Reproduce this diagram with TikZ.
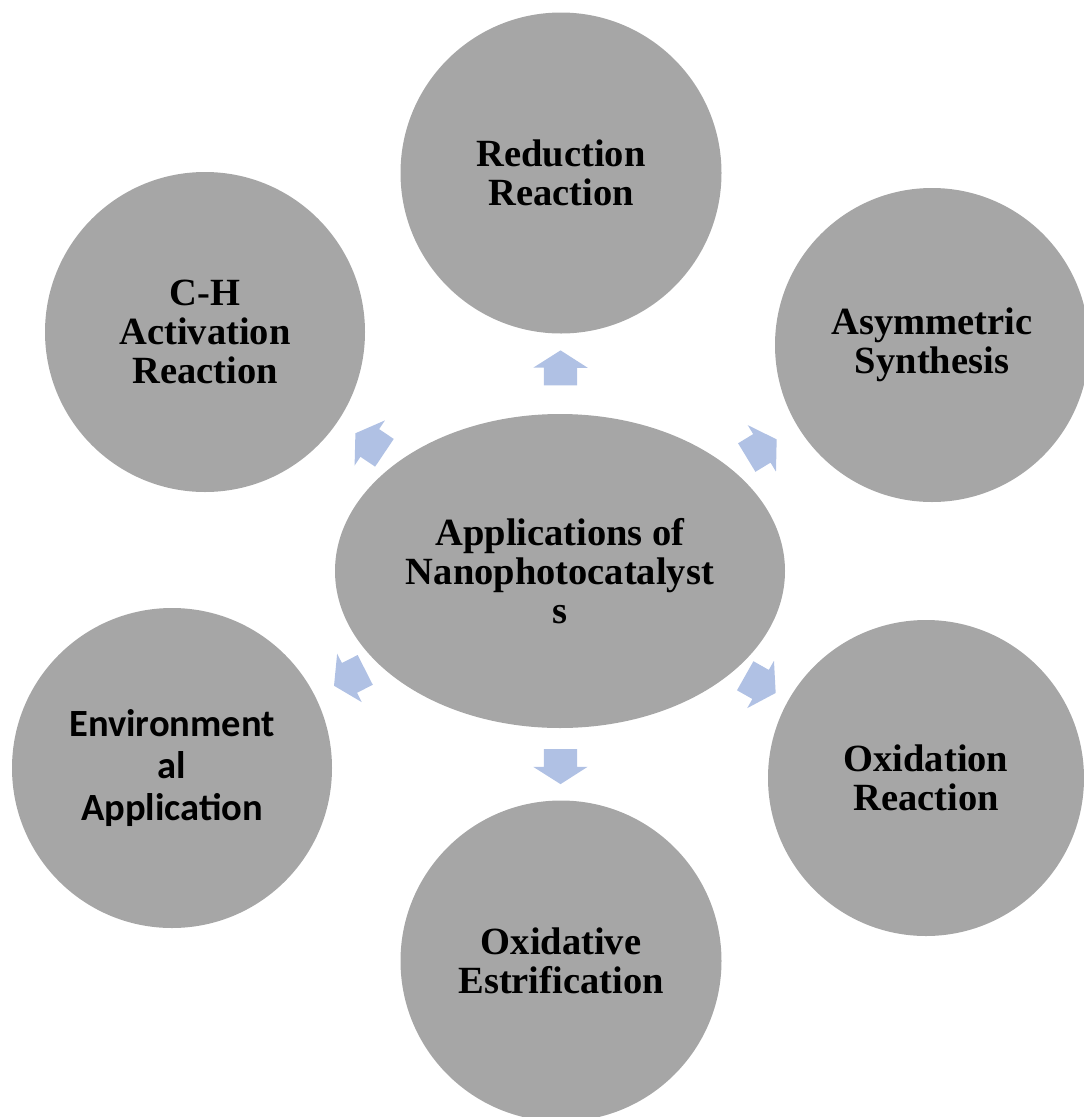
\documentclass[tikz,border=0pt]{standalone}
\usepackage{fontspec}
\setmainfont{Liberation Serif}
\newfontfamily\calibrifont{Carlito}
\usetikzlibrary{shapes.geometric,shapes.arrows}
\definecolor{bubblegray}{HTML}{A6A6A6}
\definecolor{arrowblue}{RGB}{176,193,228}
\begin{document}
\begin{tikzpicture}[x=1pt,y=-1pt,
  bubble/.style={circle,fill=bubblegray,minimum size=#1,inner sep=0pt,align=center,
    font=\fontsize{38.5}{39}\selectfont\bfseries},
  bubble/.default=321pt,
  hub/.style={ellipse,fill=bubblegray,minimum width=450pt,minimum height=314pt,inner sep=0pt,
    align=center,font=\fontsize{38.5}{39}\selectfont\bfseries},
  blockarrow/.style={single arrow,fill=arrowblue,minimum height=35pt,minimum width=54pt,
    single arrow head extend=10.5pt,single arrow tip angle=115,inner xsep=0pt,inner ysep=16.5pt}]
\useasboundingbox (0,0) rectangle (1084,1117);
% centre
\node[hub] (app) at (560,571) {Applications of\\Nanophotocatalyst\\s};
% ring
\node[bubble] (red) at (561,173) {Reduction\\Reaction};
\node[bubble=314pt] (asym) at (932,345) {Asymmetric\\Synthesis};
\node[bubble=316pt] (oxi) at (926,778) {Oxidation\\Reaction};
\node[bubble] (est) at (561,961) {Oxidative\\Estrification};
\node[bubble=320pt,font=\calibrifont\fontsize{38.5}{42}\selectfont\bfseries] (env) at (172,768) {Environment\\al\\Application};
\node[bubble=320pt] (ch) at (205,332) {C-H\\Activation\\Reaction};
% arrows
\foreach \t/\p in {red/0.497,asym/0.53,oxi/0.535,est/0.488,env/0.53,ch/0.523}
  \path (app.center) -- node[pos=\p,sloped,allow upside down,blockarrow] (arr-\t) {} (\t.center);
\end{tikzpicture}
\end{document}
